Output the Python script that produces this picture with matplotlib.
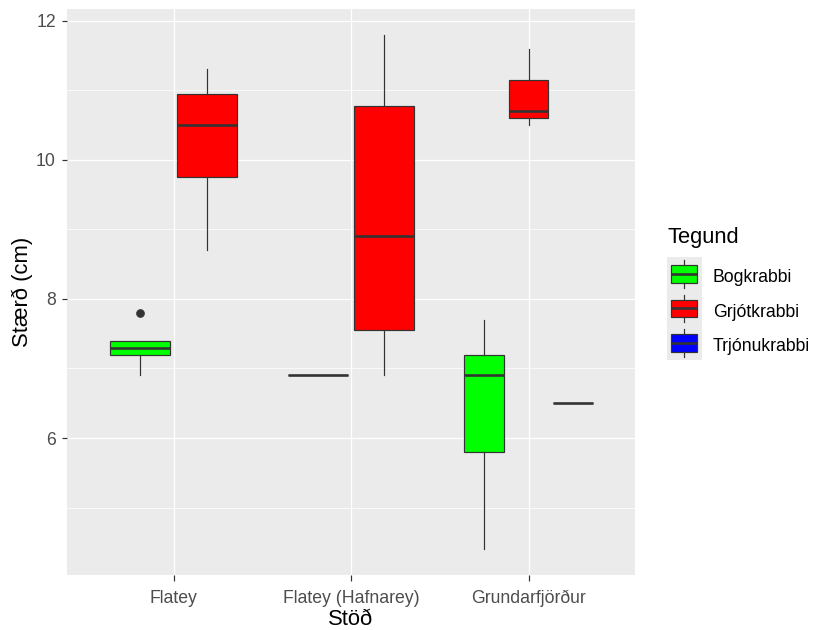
import matplotlib
matplotlib.use("Agg")
import matplotlib.pyplot as plt
from matplotlib.patches import Rectangle
from matplotlib.lines import Line2D
from matplotlib.ticker import MultipleLocator

plt.rcParams["font.family"] = ["Liberation Sans", "DejaVu Sans"]

# ---- data -------------------------------------------------------------
stations = ["Flatey", "Flatey (Hafnarey)", "Grundarfjörður"]
species = ["Bogkrabbi", "Grjótkrabbi", "Trjónukrabbi"]
species_colors = ["#00FF00", "#FF0000", "#0000FF"]

# one entry per (station, species) box
box_station = ["Flatey", "Flatey", "Flatey (Hafnarey)", "Flatey (Hafnarey)",
               "Grundarfjörður", "Grundarfjörður", "Grundarfjörður"]
box_species = ["Bogkrabbi", "Grjótkrabbi", "Bogkrabbi", "Grjótkrabbi",
               "Bogkrabbi", "Grjótkrabbi", "Trjónukrabbi"]
whisker_low = [6.9, 8.7, 6.9, 6.9, 4.4, 10.5, 6.5]
q1 = [7.2, 9.75, 6.9, 7.55, 5.8, 10.6, 6.5]
median = [7.3, 10.5, 6.9, 8.9, 6.9, 10.7, 6.5]
q3 = [7.4, 10.95, 6.9, 10.77, 7.2, 11.15, 6.5]
whisker_high = [7.4, 11.3, 6.9, 11.8, 7.7, 11.6, 6.5]
outliers = [[7.8], [], [], [], [], [], []]

# ---- figure -----------------------------------------------------------
W, H, DPI = 818, 630, 144
fig = plt.figure(figsize=(W / DPI, H / DPI), dpi=DPI)


def fx(px):
    return px / W


def fy(py):
    return 1 - py / H


ax = fig.add_axes([fx(67), fy(575), (635 - 67) / W, (575 - 9) / H])
ax.set_facecolor("#EBEBEB")
for s in ax.spines.values():
    s.set_visible(False)

DARK = "#333333"
dodge_width = 0.75
padding = 0.1

for k, st in enumerate(stations):
    idx = [i for i, b in enumerate(box_station) if b == st]
    n = len(idx)
    slot = dodge_width / n
    for j, i in enumerate(idx):
        pos = (k + 1) - dodge_width / 2 + (j + 0.5) * slot
        stats = [dict(med=median[i], q1=q1[i], q3=q3[i],
                      whislo=whisker_low[i], whishi=whisker_high[i],
                      fliers=outliers[i])]
        color = species_colors[species.index(box_species[i])]
        ax.bxp(stats, positions=[pos], widths=[slot * (1 - padding)],
               patch_artist=True, showcaps=False, manage_ticks=False,
               boxprops=dict(facecolor=color, edgecolor=DARK, linewidth=0.6),
               medianprops=dict(color=DARK, linewidth=1.3,
                                solid_capstyle="butt"),
               whiskerprops=dict(color=DARK, linewidth=0.6),
               flierprops=dict(marker="o", markerfacecolor=DARK,
                               markeredgecolor=DARK, markersize=4,
                               markeredgewidth=0.3),
               zorder=3)

# axis limits with ggplot-style expansion
all_vals = whisker_low + whisker_high + [v for o in outliers for v in o]
lo, hi = min(all_vals), max(all_vals)
pad = 0.05 * (hi - lo)
ax.set_ylim(lo - pad, hi + pad)
ax.set_xlim(0.4, len(stations) + 0.6)

ax.set_xticks(range(1, len(stations) + 1))
ax.set_xticklabels(stations)
ax.yaxis.set_major_locator(MultipleLocator(2))
ax.yaxis.set_minor_locator(MultipleLocator(1))

ax.grid(which="major", color="white", linewidth=0.65, zorder=0)
ax.grid(which="minor", axis="y", color="white", linewidth=0.35, zorder=0)
ax.set_axisbelow(True)

ax.tick_params(axis="both", which="major", length=2.75, width=0.6,
               color=DARK, labelcolor="#4D4D4D", labelsize=8.8)
ax.tick_params(axis="y", which="minor", length=0)
ax.tick_params(axis="x", pad=11.25)
ax.tick_params(axis="y", pad=2.8)
for lab in ax.get_xticklabels():
    lab.set_verticalalignment("baseline")

# axis titles
fig.text(fx(351), fy(625), "Stöð", ha="center", va="baseline",
         fontsize=11, color="black")
fig.text(fx(28.3), fy(292), "Stærð (cm)", ha="center", va="baseline",
         rotation=90, rotation_mode="anchor", fontsize=11, color="black")

# ---- legend -----------------------------------------------------------
fig.text(fx(667), fy(243), "Tegund", ha="left", va="baseline",
         fontsize=11, color="black")
key = 34.5
key_top = 256.7
lax = fig.add_axes([fx(667), fy(key_top + key * len(species)),
                    key / W, key * len(species) / H])
lax.set_xlim(0, 1)
lax.set_ylim(len(species), 0)
lax.axis("off")
for i, (sp, col) in enumerate(zip(species, species_colors)):
    lax.add_patch(Rectangle((0, i), 1, 1, facecolor="#EBEBEB",
                            edgecolor="none"))
    lax.add_patch(Rectangle((0.125, i + 0.25), 0.75, 0.5, facecolor=col,
                            edgecolor=DARK, linewidth=0.6))
    lax.add_line(Line2D([0.125, 0.875], [i + 0.5, i + 0.5], color=DARK,
                        linewidth=1.3, solid_capstyle="butt"))
    lax.add_line(Line2D([0.5, 0.5], [i + 0.1, i + 0.25], color=DARK,
                        linewidth=0.6))
    lax.add_line(Line2D([0.5, 0.5], [i + 0.75, i + 0.9], color=DARK,
                        linewidth=0.6))
    fig.text(fx(713), fy(key_top + key * (i + 0.5) + 8.5), sp,
             ha="left", va="baseline", fontsize=8.8, color="black")

fig.savefig("out.png", dpi=DPI)
